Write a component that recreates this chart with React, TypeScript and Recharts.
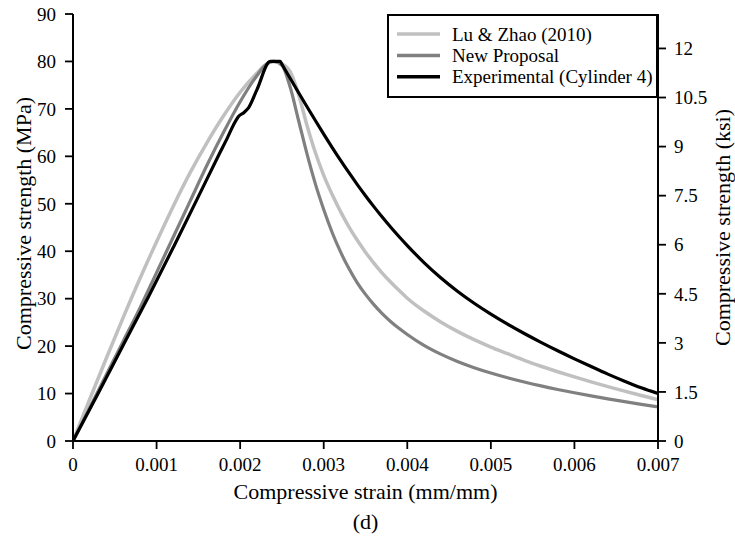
import React from "react";
import { LineChart, Line, XAxis, YAxis, Legend, Label } from "recharts";

// ---- data (strain in mm/mm, stress in MPa) ----
const luZhaoStrain = [0, 0.0002, 0.0004, 0.0006, 0.0008, 0.001, 0.0012, 0.0014, 0.0016, 0.0018, 0.002, 0.0022, 0.0023, 0.0024, 0.0025, 0.0026, 0.0027, 0.0028, 0.0029, 0.003, 0.0031, 0.0032, 0.0033, 0.0034, 0.0035, 0.0036, 0.0037, 0.0038, 0.0039, 0.004, 0.0042, 0.0044, 0.0046, 0.0048, 0.005, 0.0052, 0.0054, 0.0056, 0.0058, 0.006, 0.0062, 0.0064, 0.0066, 0.0068, 0.007];
const luZhaoStress = [0, 8.8, 17.5, 26, 34.2, 42, 49.5, 56.5, 62.8, 68.5, 73.5, 77.5, 79.2, 80, 79.5, 77.8, 73, 66.5, 60.8, 56, 52.0, 48.4, 45.2, 42.35, 39.8, 37.5, 35.4, 33.5, 31.75, 30.1, 27.4, 25.1, 23.1, 21.35, 19.8, 18.4, 17.0, 15.75, 14.6, 13.5, 12.45, 11.45, 10.5, 9.6, 8.7];

const proposalStrain = [0, 0.0002, 0.0004, 0.0006, 0.0008, 0.001, 0.0012, 0.0014, 0.0016, 0.0018, 0.002, 0.0022, 0.0023, 0.0024, 0.0025, 0.0026, 0.0027, 0.0028, 0.0029, 0.003, 0.0031, 0.0032, 0.0033, 0.0034, 0.0035, 0.0036, 0.0037, 0.0038, 0.0039, 0.004, 0.0042, 0.0044, 0.0046, 0.0048, 0.005, 0.0052, 0.0054, 0.0056, 0.0058, 0.006, 0.0062, 0.0064, 0.0066, 0.0068, 0.007];
const proposalStress = [0, 7, 14, 21, 28, 35.5, 43, 50.5, 58, 65, 71.5, 77, 79.2, 80, 79.2, 74.5, 67.5, 60.5, 54.2, 48.8, 44.0, 39.9, 36.4, 33.4, 30.9, 28.75, 26.85, 25.2, 23.75, 22.45, 20.15, 18.3, 16.75, 15.45, 14.33, 13.33, 12.43, 11.61, 10.86, 10.16, 9.5, 8.88, 8.29, 7.73, 7.2];

const experimentalStrain = [0, 0.0003, 0.0006, 0.0009, 0.0012, 0.0015, 0.00175, 0.00185, 0.00192, 0.00198, 0.00205, 0.0021, 0.0022, 0.00236, 0.00248, 0.0025, 0.0026, 0.0027, 0.0028, 0.0029, 0.003, 0.0031, 0.0032, 0.0033, 0.0034, 0.0035, 0.0036, 0.0037, 0.0038, 0.0039, 0.004, 0.0042, 0.0044, 0.0046, 0.0048, 0.005, 0.0052, 0.0054, 0.0056, 0.0058, 0.006, 0.0062, 0.0064, 0.0066, 0.0068, 0.007];
const experimentalStress = [0, 10, 20.2, 30.3, 40.8, 51.5, 60.5, 64, 66.6, 68.4, 69.3, 70.2, 74, 80, 80, 79.4, 76.4, 73.4, 70.45, 67.55, 64.7, 61.9, 59.2, 56.6, 54.1, 51.7, 49.4, 47.2, 45.1, 43.1, 41.2, 37.6, 34.4, 31.57, 29.04, 26.75, 24.63, 22.66, 20.8, 19.02, 17.32, 15.69, 14.1, 12.6, 11.2, 10.0];

const strainTicks = [0, 0.001, 0.002, 0.003, 0.004, 0.005, 0.006, 0.007];
const mpaTicks = [0, 10, 20, 30, 40, 50, 60, 70, 80, 90];
const ksiTicks = [0, 1.5, 3, 4.5, 6, 7.5, 9, 10.5, 12];
const MPA_PER_KSI = 6.895;

const seriesNames = ["Lu & Zhao (2010)", "New Proposal", "Experimental (Cylinder 4)"];
const seriesColors = ["#c0c0c0", "#808080", "#000000"];

const toPoints = (xs: number[], ys: number[]) => xs.map((x, i) => ({ strain: x, stress: ys[i] }));
const luZhaoData = toPoints(luZhaoStrain, luZhaoStress);
const proposalData = toPoints(proposalStrain, proposalStress);
const experimentalData = toPoints(experimentalStrain, experimentalStress);

const FONT = "Liberation Serif, Tinos, Times New Roman, Times, DejaVu Serif, Noto Serif, serif";
const tickStyle = { fill: "#000", fontSize: 19, fontFamily: FONT, style: { fontFamily: FONT } };
const axisLineStyle = { stroke: "#000", strokeWidth: 2 };
const tickLineStyle = { stroke: "#000", strokeWidth: 1.8 };

const W = 735;
const H = 539;

const renderLegend = () => (
  <svg width={267} height={80} style={{ display: "block", fontFamily: FONT }}>
    {seriesNames.map((name, i) => (
      <g key={name}>
        <line x1={8} x2={51} y1={18 + i * 21.4} y2={18 + i * 21.4} stroke={seriesColors[i]} strokeWidth={3.5} />
        <text x={63} y={24.5 + i * 21.4} fontSize={19} fontFamily={FONT} style={{ fontFamily: FONT }} fill="#000">
          {name}
        </text>
      </g>
    ))}
  </svg>
);

export default function App() {
  return (
    <div style={{ position: "absolute", left: 0, top: 0, width: W, height: H, background: "#fff", fontFamily: FONT }}>
      <LineChart width={W} height={H} margin={{ top: 14, right: 0, bottom: 0, left: 0 }} style={{ fontFamily: FONT }}>
        <XAxis
          xAxisId="bottom"
          type="number"
          dataKey="strain"
          domain={[0, 0.007]}
          ticks={strainTicks}
          allowDataOverflow
          height={98}
          tickSize={8}
          tickMargin={9}
          tick={tickStyle}
          axisLine={axisLineStyle}
          tickLine={tickLineStyle}
          tickFormatter={(v: number) => String(v)}
        >
          <Label
            content={(props: any) => {
              const vb = props.viewBox || { x: 73, y: 441, width: 585, height: 98 };
              const cx = vb.x + vb.width / 2;
              return (
                <g style={{ fontFamily: FONT }}>
                  <text x={cx} y={vb.y + 58} textAnchor="middle" fontSize={22} fontFamily={FONT} fill="#000">
                    Compressive strain (mm/mm)
                  </text>
                  <text x={cx} y={vb.y + 88} textAnchor="middle" fontSize={22} fontFamily={FONT} fill="#000">
                    (d)
                  </text>
                </g>
              );
            }}
          />
        </XAxis>
        <XAxis
          xAxisId="top"
          orientation="top"
          type="number"
          domain={[0, 0.007]}
          ticks={strainTicks}
          height={0}
          tickSize={8}
          tick={false}
          axisLine={axisLineStyle}
          tickLine={tickLineStyle}
        />
        <YAxis
          yAxisId="left"
          type="number"
          domain={[0, 90]}
          ticks={mpaTicks}
          width={73}
          tickSize={8}
          tickMargin={9}
          tick={tickStyle}
          axisLine={axisLineStyle}
          tickLine={tickLineStyle}
        >
          <Label
            content={(props: any) => {
              const vb = props.viewBox || { x: 0, y: 14, width: 73, height: 427 };
              const cy = vb.y + vb.height / 2 - 4;
              return (
                <text
                  transform={`translate(31, ${cy}) rotate(-90)`}
                  textAnchor="middle"
                  fontSize={22}
                  fontFamily={FONT}
                  style={{ fontFamily: FONT }}
                  fill="#000"
                >
                  Compressive strength (MPa)
                </text>
              );
            }}
          />
        </YAxis>
        <YAxis
          yAxisId="right"
          orientation="right"
          type="number"
          domain={[0, 90 / MPA_PER_KSI]}
          ticks={ksiTicks}
          allowDataOverflow
          width={77}
          tickSize={8}
          tickMargin={8}
          tick={tickStyle}
          axisLine={axisLineStyle}
          tickLine={tickLineStyle}
          tickFormatter={(v: number) => String(v)}
        >
          <Label
            content={(props: any) => {
              const vb = props.viewBox || { x: 658, y: 14, width: 77, height: 427 };
              const cy = vb.y + vb.height / 2;
              return (
                <text
                  transform={`translate(730, ${cy}) rotate(-90)`}
                  textAnchor="middle"
                  fontSize={22}
                  fontFamily={FONT}
                  style={{ fontFamily: FONT }}
                  fill="#000"
                >
                  Compressive strength (ksi)
                </text>
              );
            }}
          />
        </YAxis>
        <Legend
          layout="vertical"
          align="center"
          verticalAlign="middle"
          content={renderLegend}
          wrapperStyle={{
            left: 387,
            top: 14,
            width: 271,
            height: 84,
            border: "2px solid #000",
            background: "#fff",
            boxSizing: "border-box",
            margin: 0,
            padding: 0,
          }}
        />
        <Line
          xAxisId="bottom"
          yAxisId="left"
          data={luZhaoData}
          dataKey="stress"
          name={seriesNames[0]}
          type="monotone"
          stroke={seriesColors[0]}
          strokeWidth={3.5}
          dot={false}
          isAnimationActive={false}
        />
        <Line
          xAxisId="bottom"
          yAxisId="left"
          data={proposalData}
          dataKey="stress"
          name={seriesNames[1]}
          type="monotone"
          stroke={seriesColors[1]}
          strokeWidth={3.2}
          dot={false}
          isAnimationActive={false}
        />
        <Line
          xAxisId="bottom"
          yAxisId="left"
          data={experimentalData}
          dataKey="stress"
          name={seriesNames[2]}
          type="monotone"
          stroke={seriesColors[2]}
          strokeWidth={3.2}
          dot={false}
          isAnimationActive={false}
        />
      </LineChart>
    </div>
  );
}
